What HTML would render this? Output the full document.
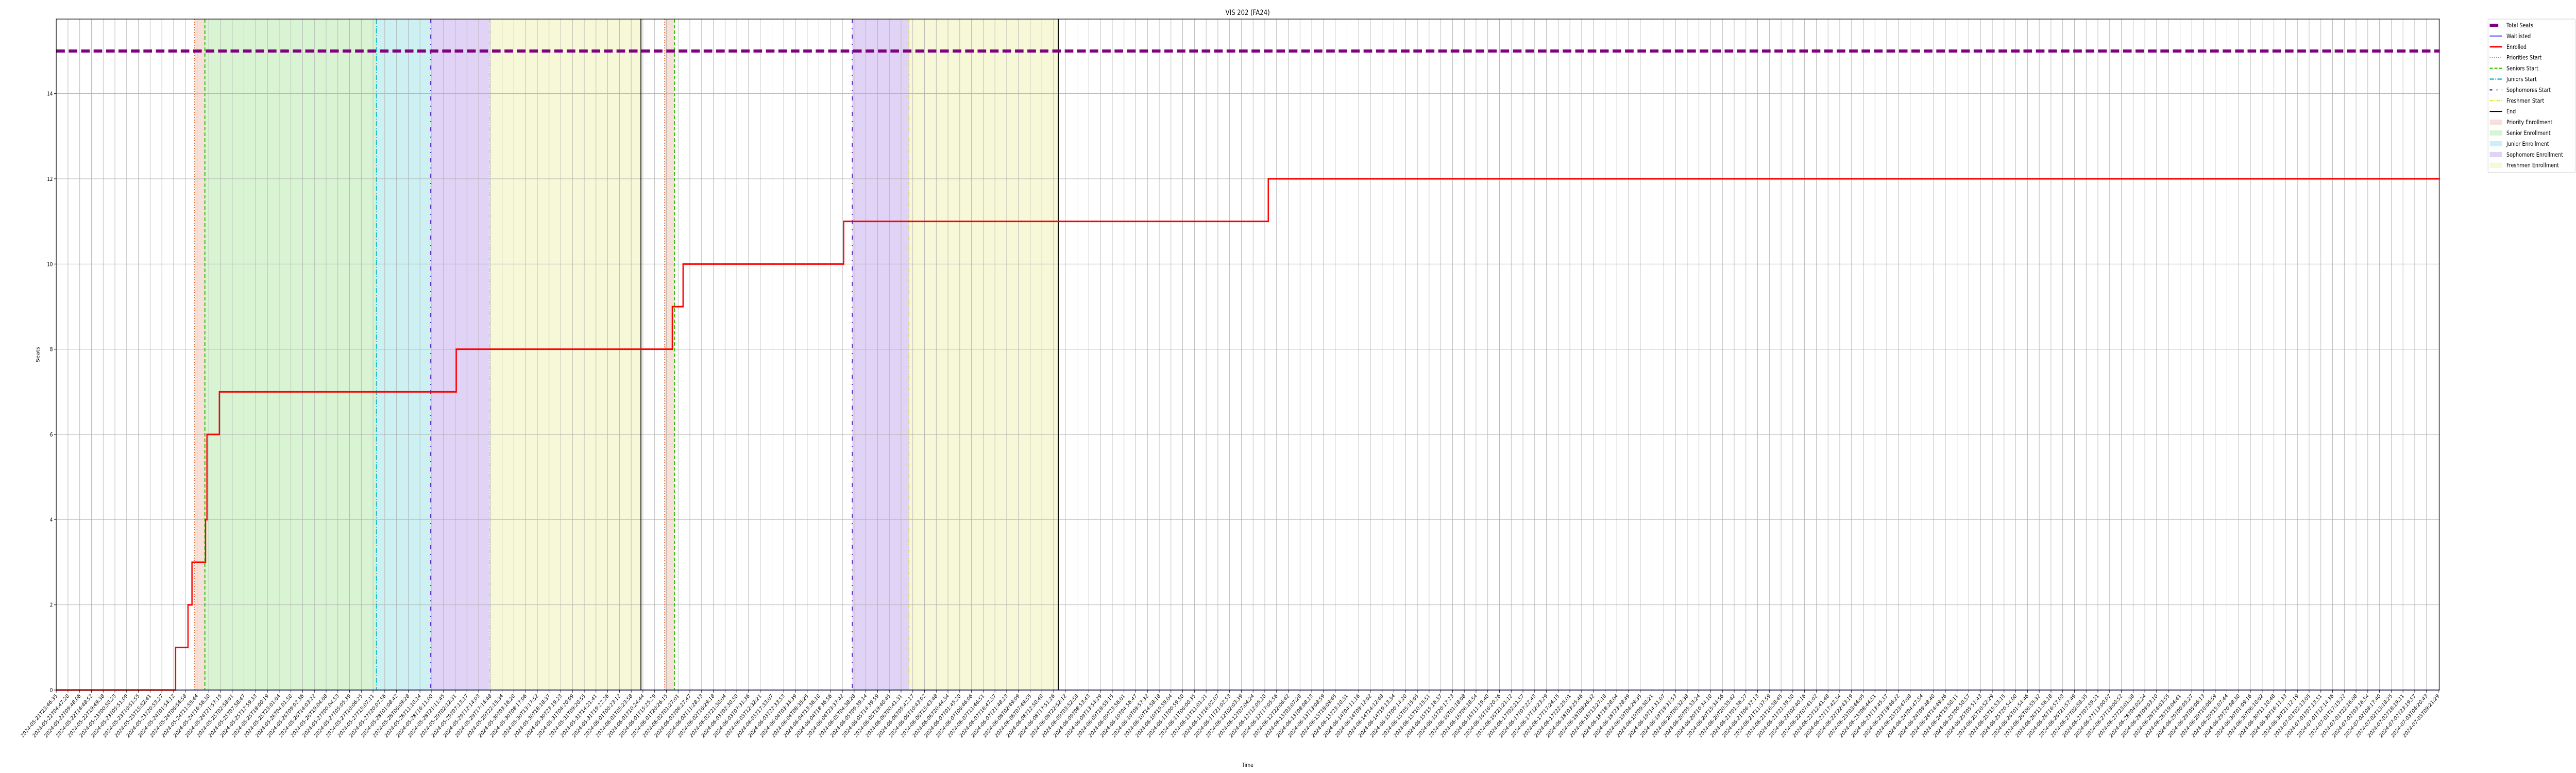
<!DOCTYPE html>
<html><head><meta charset="utf-8">
<style>
html,body{margin:0;padding:0;background:#fff;width:100%;height:100%;overflow:hidden;}
svg{display:block;width:100vw;height:100vh;font-family:"DejaVu Sans","Liberation Sans",sans-serif;}
</style></head>
<body>
<svg id="chart" viewBox="0 0 6000 1500" preserveAspectRatio="none" xmlns="http://www.w3.org/2000/svg" overflow="hidden">
<text x="2906" y="29" font-size="14" text-anchor="middle">VIS 202 (FA24)</text>
<text x="2906" y="1488" font-size="11" text-anchor="middle">Time</text>
<text x="92" y="688" font-size="11" text-anchor="middle" transform="rotate(-90 92 688)">Seats</text>
<g id="bands"></g><g id="grid"></g><g id="vlines"></g><g id="series"></g><g id="axes"></g><g id="legend"></g>
</svg>
<script>
const startTime = "2024-05-21T23:46:35";
const endTime = "2024-07-03T09:21:29";
const tickCount = 204;
const yTicks = [0,2,4,6,8,10,12,14];
const totalSeats = 15;
const enrolledTimes = ["2024-05-21T23:46:35","2024-05-24T02:46:00","2024-05-24T08:04:00","2024-05-24T09:46:00","2024-05-24T15:34:00","2024-05-24T16:10:00","2024-05-24T21:28:00","2024-05-29T02:40:00","2024-06-01T22:58:00","2024-06-02T03:34:00","2024-06-05T00:10:00","2024-06-12T13:34:00"];
const enrolledValues = [0,1,2,3,4,6,7,8,9,10,11,12];
const waitlistedValues = [0];
const priorityStarts = ["2024-05-24T10:52:00","2024-06-01T19:40:00"];
const seniorStarts = ["2024-05-24T15:16:00","2024-06-01T23:52:00"];
const juniorStarts = ["2024-05-27T16:34:00"];
const sophomoreStarts = ["2024-05-28T15:46:00","2024-06-05T03:52:00"];
const freshmenStarts = ["2024-05-29T16:52:00","2024-06-06T04:04:00"];
const endTimes = ["2024-06-01T09:34:00","2024-06-08T19:52:00"];
const priorityBands = [["2024-05-24T10:52:00","2024-05-24T15:16:00"],["2024-06-01T19:40:00","2024-06-01T23:52:00"]];
const seniorBands = [["2024-05-24T15:16:00","2024-05-27T16:34:00"]];
const juniorBands = [["2024-05-27T16:34:00","2024-05-28T15:46:00"]];
const sophomoreBands = [["2024-05-28T15:46:00","2024-05-29T16:52:00"],["2024-06-05T03:52:00","2024-06-06T04:04:00"]];
const freshmenBands = [["2024-05-29T16:52:00","2024-06-01T09:34:00"],["2024-06-06T04:04:00","2024-06-08T19:52:00"]];

const NS="http://www.w3.org/2000/svg";
const L=131,R=5682,T=37,B=1339,TICKL=131,TICKR=5679;
const ms=s=>Date.parse(s+"Z");
const t0=ms(startTime),t1=ms(endTime);
const xs=s=>TICKL+(ms(s)-t0)/(t1-t0)*(TICKR-TICKL);
const xms=v=>TICKL+(v-t0)/(t1-t0)*(TICKR-TICKL);
const yMax=15.75;
const ys=v=>B-v/yMax*(B-T);
function mk(tag,attrs,parent){const e=document.createElementNS(NS,tag);for(const k in attrs)e.setAttribute(k,attrs[k]);parent.appendChild(e);return e;}
const g=id=>document.getElementById(id);

function bands(arr,color,name){arr.forEach(b=>{const e=mk('rect',{x:xs(b[0]),y:T,width:xs(b[1])-xs(b[0]),height:B-T,fill:color},g('bands'));

});}
bands(priorityBands,'#f7e0d7','priority-enrollment-band');
bands(seniorBands,'#d9f4d3','senior-enrollment-band');
bands(juniorBands,'#cdf0f2','junior-enrollment-band');
bands(sophomoreBands,'#e0d3f5','sophomore-enrollment-band');
bands(freshmenBands,'#f7f8d8','freshmen-enrollment-band');

const pad=n=>String(n).padStart(2,'0');
for(let i=0;i<tickCount;i++){
  const v=t0+(t1-t0)*i/(tickCount-1);const x=xms(v);
  const gl=mk('line',{x1:x,x2:x,y1:T,y2:B,stroke:'#b0b0b0','stroke-width':1},g('grid'));
  
  
  mk('line',{x1:x,x2:x,y1:B,y2:B+5,stroke:'#000','stroke-width':1},g('axes'));
  const d=new Date(v);
  const lab=d.getUTCFullYear()+'-'+pad(d.getUTCMonth()+1)+'-'+pad(d.getUTCDate())+'T'+pad(d.getUTCHours())+':'+pad(d.getUTCMinutes())+':'+pad(d.getUTCSeconds());
  const t=mk('text',{x:x+3,y:B+12,'font-size':10.5,'text-anchor':'end',transform:`rotate(-45 ${x+3} ${B+12})`},g('axes'));
  t.textContent=lab;
  
  
}
yTicks.forEach(v=>{const y=ys(v);
  const gl=mk('line',{x1:L,x2:R,y1:y,y2:y,stroke:'#b0b0b0','stroke-width':1},g('grid'));
  
  
  mk('line',{x1:L-5,x2:L,y1:y,y2:y,stroke:'#000'},g('axes'));
  const t=mk('text',{x:L-8,y:y+4,'font-size':10.5,'text-anchor':'end'},g('axes'));t.textContent=v;
  
  
});

function vl(arr,color,dash,w,name){arr.forEach(s=>{const x=xs(s);const e=mk('line',{x1:x,x2:x,y1:T,y2:B,stroke:color,'stroke-width':w,'stroke-dasharray':dash},g('vlines'));

});}
vl(priorityStarts,'#e36f35','2 3',2,'priorities-start-line');
vl(seniorStarts,'#3cc31a','7 4',2.5,'seniors-start-line');
vl(juniorStarts,'#17becf','10 3 2 3',2.5,'juniors-start-line');
vl(sophomoreStarts,'#6a2dd0','8 10 2 10',2.5,'sophomores-start-line');
vl(freshmenStarts,'#e0e030','8 3 2 3 2 3',2,'freshmen-start-line');
vl(endTimes,'#000','',2,'end-line');

const ts=mk('line',{x1:L,x2:R,y1:ys(totalSeats),y2:ys(totalSeats),stroke:'#800080','stroke-width':6,'stroke-dasharray':'20 9'},g('series'));


const wl=mk('line',{x1:L,x2:R,y1:ys(waitlistedValues[0]),y2:ys(waitlistedValues[0]),stroke:'#0000ff','stroke-width':1.5},g('series'));


let d='';enrolledTimes.forEach((s,i)=>{const x=xs(s),y=ys(enrolledValues[i]);
 if(i===0)d+=`M${L},${y}`;else d+=`L${x},${ys(enrolledValues[i-1])}L${x},${y}`;});
d+=`L${R},${ys(enrolledValues[enrolledValues.length-1])}`;
const en=mk('path',{d:d,fill:'none',stroke:'#ff0000','stroke-width':3},g('series'));


mk('rect',{x:L,y:T,width:R-L,height:B-T,fill:'none',stroke:'#000','stroke-width':1.2},g('axes'));

const lg=g('legend');
const box=mk('rect',{x:5795,y:37,width:203,height:298,fill:'#fff',stroke:'#ccc',rx:2},lg);


const items=[['Total Seats','line','#800080',6,''],['Waitlisted','line','#0000ff',1.5,''],['Enrolled','line','#ff0000',3,''],['Priorities Start','line','#e36f35',2,'2 3'],['Seniors Start','line','#3cc31a',2.5,'7 4'],['Juniors Start','line','#17becf',2.5,'10 3 2 3'],['Sophomores Start','line','#6a2dd0',2.5,'6 10 2 10'],['Freshmen Start','line','#e0e030',2,'8 3 2 3'],['End','line','#000',2,''],['Priority Enrollment','rect','#f7e0d7'],['Senior Enrollment','rect','#d9f4d3'],['Junior Enrollment','rect','#cdf0f2'],['Sophomore Enrollment','rect','#e0d3f5'],['Freshmen Enrollment','rect','#f7f8d8']];
items.forEach((it,i)=>{const y=49+i*20.9;
 const ge=mk('g',{},lg);
 
 
 if(it[1]==='line'){const w=it[0]==='Total Seats'?20:29;mk('line',{x1:5799,x2:5799+w,y1:y,y2:y,stroke:it[2],'stroke-width':it[3],'stroke-dasharray':it[4]},ge);}
 else mk('rect',{x:5799,y:y-5,width:29,height:10,fill:it[2]},ge);
 const t=mk('text',{x:5838,y:y+4,'font-size':11.5},ge);t.textContent=it[0];});
</script>
</body></html>
